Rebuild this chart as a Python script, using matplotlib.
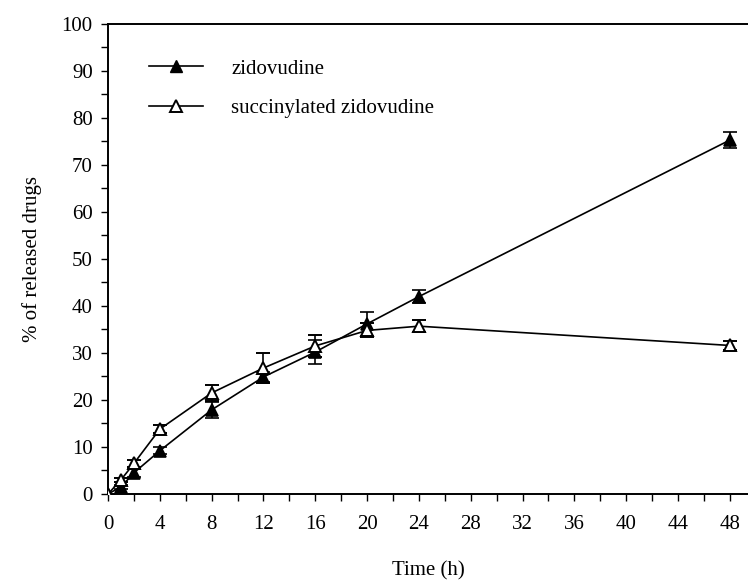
import matplotlib
matplotlib.use("Agg")
import matplotlib.pyplot as plt
from matplotlib.lines import Line2D
from matplotlib.ticker import MultipleLocator

plt.rcParams['font.family'] = ['Liberation Serif', 'DejaVu Serif']

# Release profile: sampling times (h) and cumulative release (%)
time_h = [0, 1, 2, 4, 8, 12, 16, 20, 24, 48]
zidovudine = [0, 1.5, 4.5, 9.2, 17.9, 24.9, 30.2, 36.2, 42.0, 75.3]
zidovudine_sd = [0, 0.5, 0.8, 0.8, 1.7, 1.0, 2.6, 2.6, 1.3, 1.7]
succinylated = [0, 3.0, 6.5, 13.8, 21.5, 26.8, 31.5, 34.8, 35.7, 31.6]
succinylated_sd = [0, 0.5, 0.8, 0.8, 1.7, 3.2, 2.3, 1.5, 1.3, 1.0]
series_names = ['zidovudine', 'succinylated zidovudine']

x_ticks = list(range(0, 49, 4))
y_ticks = list(range(0, 101, 10))

fig = plt.figure(figsize=(7.48, 5.85), dpi=100)
ax = fig.add_axes([0.1444, 0.1556, 0.8556, 0.8034])

ax.errorbar(time_h, zidovudine, yerr=zidovudine_sd, color='black', lw=1.2,
            marker='^', ms=9, mfc='black', mec='black', mew=1.2,
            capsize=5, capthick=1.5, elinewidth=1.2, zorder=3)
ax.errorbar(time_h, succinylated, yerr=succinylated_sd, color='black', lw=1.2,
            marker='^', ms=9, mfc='white', mec='black', mew=1.4,
            capsize=5, capthick=1.5, elinewidth=1.2, zorder=3)

ax.set_xlim(0, 49.4)
ax.set_ylim(0, 100)
ax.set_xticks(x_ticks)
ax.set_yticks(y_ticks)
ax.xaxis.set_minor_locator(MultipleLocator(2))
ax.yaxis.set_minor_locator(MultipleLocator(5))
ax.tick_params(axis='both', which='both', direction='out', length=5, width=1.0,
               labelsize=15, color='black')
ax.tick_params(axis='x', pad=10)
ax.tick_params(axis='y', pad=6)

for side in ('left', 'bottom', 'top'):
    ax.spines[side].set_linewidth(1.4)
ax.spines['right'].set_visible(False)

ax.set_xlabel('Time (h)', fontsize=15, labelpad=20)
ax.set_ylabel('% of released drugs', fontsize=15, labelpad=14)

handles = [
    Line2D([], [], color='black', lw=1.2, marker='^', ms=9, mfc='black', mec='black'),
    Line2D([], [], color='black', lw=1.2, marker='^', ms=9, mfc='white', mec='black', mew=1.4),
]
ax.legend(handles, series_names, loc='upper left', bbox_to_anchor=(0.035, 0.965),
          frameon=False, fontsize=15, handlelength=2.6, handletextpad=1.35,
          labelspacing=0.95)

fig.savefig('out.png', dpi=100)
